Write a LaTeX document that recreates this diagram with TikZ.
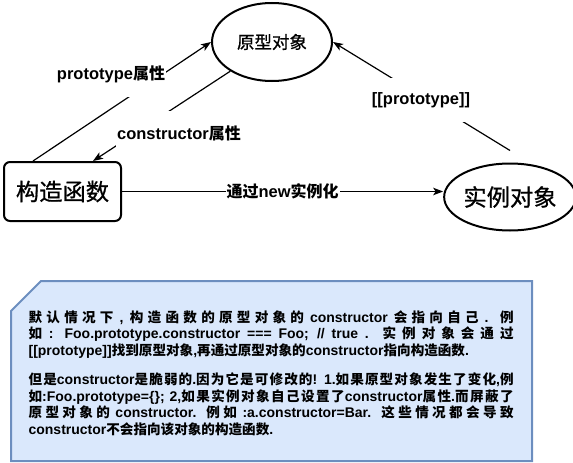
\documentclass[tikz,border=0pt]{standalone}
\usepackage{fontspec}
\setmainfont{Liberation Sans}
\newfontfamily\zh{Noto Sans CJK SC}[Scale=0.97]
\newfontfamily\zhm{Noto Sans CJK SC}[Scale=0.97, FakeBold=0.8]
\newcommand{\z}[1]{{\zh #1}}
\usetikzlibrary{arrows.meta, shapes.geometric}
\definecolor{notefill}{HTML}{DAE8FC}
\definecolor{noteedge}{HTML}{6C8EBF}
\XeTeXlinebreaklocale "zh"
\XeTeXlinebreakskip=0pt plus 4pt
\setlength{\parindent}{0pt}

\begin{document}
\begin{tikzpicture}[
  x=1pt, y=-1pt,
  >={Stealth[length=10pt, width=7.5pt, inset=2.5pt]},
  line width=1.2pt,
  objell/.style={draw, ellipse, line width=2pt, inner sep=0pt},
  ctorbox/.style={draw, rounded corners=6pt, line width=2pt, minimum width=117pt, minimum height=59pt, inner sep=0pt},
  lbl/.style={fill=white, inner xsep=1pt, inner ysep=14pt, font=\fontsize{16.5}{18}\selectfont\bfseries},
  notecard/.style={draw=noteedge, fill=notefill, line width=2pt},
  notetext/.style={anchor=north west, text width=485pt, align=justify, inner sep=0pt, font=\fontsize{14}{16.5}\selectfont\bfseries},
]
  \useasboundingbox (0,0) rectangle (573,463);

  \node[objell, minimum width=120pt, minimum height=78pt, font=\fontsize{18}{20}\selectfont\zhm] (proto) at (272,42) {原型对象};
  \node[ctorbox, font=\fontsize{24}{26}\selectfont\zhm] (ctor) at (62.5,191.5) {构造函数};
  \node[objell, minimum width=114pt, minimum height=67pt, font=\fontsize{24}{26}\selectfont\zhm] (inst) at (510,197) {实例对象};

  \draw[->] ([xshift=30pt]ctor.north west) -- (proto.west);
  \draw[->] (proto.215) -- ([xshift=90pt]ctor.north west);
  \draw[->] ([yshift=12pt]inst.north) -- (proto.east);
  \draw[->] (ctor.east) -- node[lbl, inner ysep=1pt] (newLbl) {\z{通过}new\z{实例化}} (ctor.east -| inst.west);

  \node[lbl] (protoLbl) at (111,74) {prototype\z{属性}};
  \node[lbl] (ctorLbl) at (179,133) {constructor\z{属性}};
  \node[lbl] (instLbl) at (421,100) {[[prototype]]};

  \draw[notecard] (11,311) -- (41,281) -- (532,281) -- (532,461) -- (11,461) -- cycle;
  \node[notetext] (noteText) at (28,310) {%
    \z{默认情况下} , \z{构造函数的原型对象的} constructor \z{会指向自己} . \z{例}\linebreak{}%
    \z{如} : Foo.prototype.constructor === Foo; // true . \z{实例对象会通过}\linebreak{}%
    [[prototype]]\z{找到原型对象},\z{再通过原型对象的}constructor\z{指向构造函数}.\par
    \vspace{13pt}%
    \z{但是}constructor\z{是脆弱的}.\z{因为它是可修改的}! 1.\z{如果原型对象发生了变化},\z{例}\linebreak{}%
    \z{如}:Foo.prototype=\{\}; 2,\z{如果实例对象自己设置了}constructor\z{属性}.\z{而屏蔽了}\linebreak{}%
    \z{原型对象的} constructor. \z{例如} :a.constructor=Bar. \z{这些情况都会导致}\linebreak{}%
    constructor\z{不会指向该对象的构造函数}.};
\end{tikzpicture}
\end{document}
